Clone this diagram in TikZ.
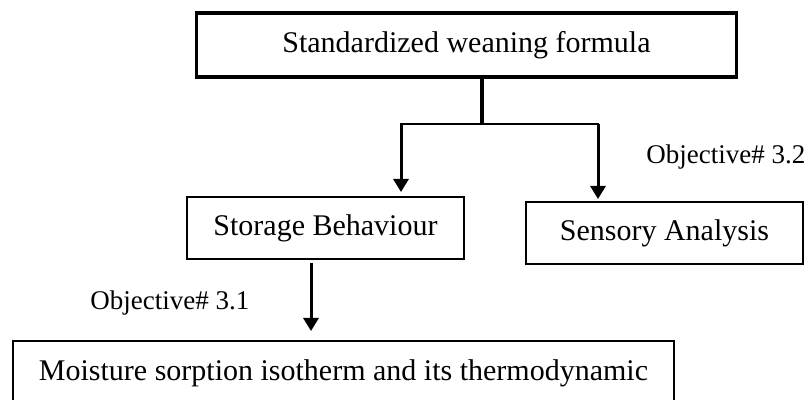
\documentclass[tikz,border=0pt]{standalone}
\usepackage{fontspec}
\setmainfont{Liberation Serif}
\usetikzlibrary{arrows.meta}

\begin{document}
\begin{tikzpicture}[x=0.5pt,y=-0.5pt,
		box/.style={draw,line width=1pt,inner sep=0pt,font=\fontsize{15}{18}\selectfont},
		objective/.style={anchor=west,inner sep=0pt,font=\fontsize{13.5}{16}\selectfont},
		arr/.style={-{Triangle[width=7.5pt,length=6.5pt]},line width=1.5pt}]
		\useasboundingbox (0,0) rectangle (809,400);

		\node[box,line width=1.6pt,minimum width=270pt,minimum height=32pt] (formula) at (466.5,45) {Standardized weaning formula};
		\node[box,minimum width=138.5pt,minimum height=31pt] (storage) at (325.5,228) {Storage Behaviour};
		\node[box,minimum width=138.5pt,minimum height=31pt] (sensory) at (664.5,233) {Sensory Analysis\hspace{7pt}};
		\node[box,minimum width=330.5pt,minimum height=32pt] (moisture) at (343.5,373) {Moisture sorption isotherm and its thermodynamic};

		\node[objective] (obj2) at (646,157) {Objective\# 3.2};
		\node[objective] (obj1) at (90,303) {Objective\# 3.1};

		\coordinate (split) at (482,124);
		\coordinate (left) at (401,124);
		\coordinate (right) at (598,124);
		\coordinate (down) at (311,0);

		\draw[line width=2pt] (formula.south -| split) -- (split);
		\draw[line width=1.2pt,line cap=rect] (left) -- (right);
		\draw[arr,shorten >=2pt] (left) -- (left |- storage.north);
		\draw[arr,shorten >=1pt] (right) -- (right |- sensory.north);
		\draw[arr,shorten <=1.5pt,shorten >=4.5pt] (storage.south -| down) -- (moisture.north -| down);
	\end{tikzpicture}
\end{document}
